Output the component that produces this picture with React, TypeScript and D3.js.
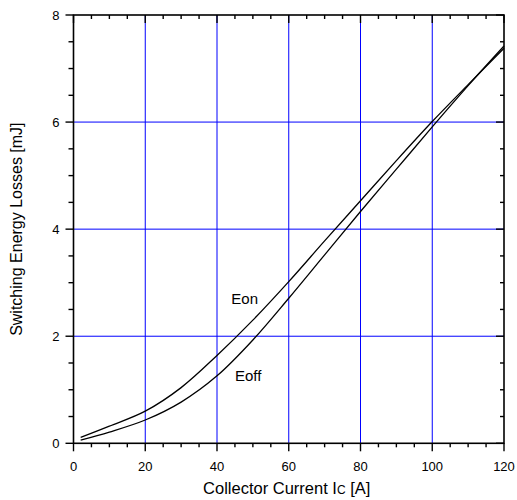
import * as d3 from 'd3'

// values
const currentA = [2, 10, 20, 30, 40, 50, 60, 70, 80, 90, 100, 110, 120]
const eonMJ = [0.11, 0.32, 0.6, 1.04, 1.64, 2.3, 3.02, 3.78, 4.53, 5.28, 6.01, 6.7, 7.38]
const eoffMJ = [0.06, 0.21, 0.435, 0.77, 1.26, 1.93, 2.71, 3.52, 4.33, 5.12, 5.91, 6.68, 7.42]
const xTicks = [0, 20, 40, 60, 80, 100, 120]
const yTicks = [0, 2, 4, 6, 8]
const xGrid = [20, 40, 60, 80, 100]
const yGrid = [2, 4, 6]

const W = 517
const H = 500
const margin = { top: 15, right: 13, bottom: 56.7, left: 73.5 }
const font = '"Liberation Sans", Arial, sans-serif'

export default function App() {
  const x = d3.scaleLinear().domain([0, 120]).range([margin.left, W - margin.right])
  const y = d3.scaleLinear().domain([0, 8]).range([H - margin.bottom, margin.top])

  const [x0, x1] = x.range()
  const [y0, y1] = y.range()

  const xMinor = d3.range(0, 121, 5).filter(v => v % 20 !== 0)
  const yMinor = d3.range(0, 8.01, 0.5).filter(v => v % 2 !== 0)

  const line = d3.line<number>()
    .x((_d, i) => x(currentA[i]))
    .y(d => y(d))
    .curve(d3.curveCatmullRom.alpha(0.5))

  return (
    <div style={{ position: 'absolute', left: 0, top: 0 }}>
      <svg width={W} height={H} style={{ display: 'block', background: '#fff' }}>
        {/* grid */}
        {xGrid.map(v => (
          <line key={'gx' + v} x1={x(v)} x2={x(v)} y1={y0} y2={y1} stroke="#0000ff" strokeWidth={1} />
        ))}
        {yGrid.map(v => (
          <line key={'gy' + v} x1={x0} x2={x1} y1={y(v)} y2={y(v)} stroke="#0000ff" strokeWidth={1} />
        ))}

        {/* curves */}
        <path d={line(eonMJ) || ''} fill="none" stroke="#000" strokeWidth={1.3} />
        <path d={line(eoffMJ) || ''} fill="none" stroke="#000" strokeWidth={1.3} />

        {/* frame */}
        <rect x={x0} y={y1} width={x1 - x0} height={y0 - y1} fill="none" stroke="#000" strokeWidth={1.6} />

        {/* bottom ticks (outward) and top ticks (inward) */}
        {xTicks.map(v => (
          <g key={'xt' + v}>
            <line x1={x(v)} x2={x(v)} y1={y0} y2={y0 + 8} stroke="#000" strokeWidth={1.4} />
            <line x1={x(v)} x2={x(v)} y1={y1} y2={y1 + 8} stroke="#000" strokeWidth={1.4} />
            <text x={x(v)} y={y0 + 28} textAnchor="middle" fontFamily={font} fontSize={13} fill="#000">{v}</text>
          </g>
        ))}
        {xMinor.map(v => (
          <g key={'xm' + v}>
            <line x1={x(v)} x2={x(v)} y1={y0} y2={y0 + 4} stroke="#000" strokeWidth={1.4} />
            <line x1={x(v)} x2={x(v)} y1={y1} y2={y1 + 4} stroke="#000" strokeWidth={1.4} />
          </g>
        ))}

        {/* left ticks (outward) and right ticks (inward) */}
        {yTicks.map(v => (
          <g key={'yt' + v}>
            <line x1={x0 - 8} x2={x0} y1={y(v)} y2={y(v)} stroke="#000" strokeWidth={1.4} />
            <line x1={x1 - 8} x2={x1} y1={y(v)} y2={y(v)} stroke="#000" strokeWidth={1.4} />
            <text x={x0 - 14} y={y(v) + 4.5} textAnchor="end" fontFamily={font} fontSize={13} fill="#000">{v}</text>
          </g>
        ))}
        {yMinor.map(v => (
          <g key={'ym' + v}>
            <line x1={x0 - 5} x2={x0} y1={y(v)} y2={y(v)} stroke="#000" strokeWidth={1.4} />
            <line x1={x1 - 4} x2={x1} y1={y(v)} y2={y(v)} stroke="#000" strokeWidth={1.4} />
          </g>
        ))}

        {/* curve labels */}
        <text x={x(44)} y={y(2.6)} fontFamily={font} fontSize={15} fill="#000">Eon</text>
        <text x={x(45)} y={y(1.17)} fontFamily={font} fontSize={15} fill="#000">Eoff</text>

        {/* axis titles */}
        <text x={(x0 + x1) / 2 - 2} y={H - 6} textAnchor="middle" fontFamily={font} fontSize={16.5} fill="#000">
          Collector Current I<tspan fontSize={12}>C</tspan> [A]
        </text>
        <text
          transform={`translate(22,${(y0 + y1) / 2}) rotate(-90)`}
          textAnchor="middle"
          fontFamily={font}
          fontSize={16}
          fill="#000"
        >
          Switching Energy Losses [mJ]
        </text>
      </svg>
    </div>
  )
}
